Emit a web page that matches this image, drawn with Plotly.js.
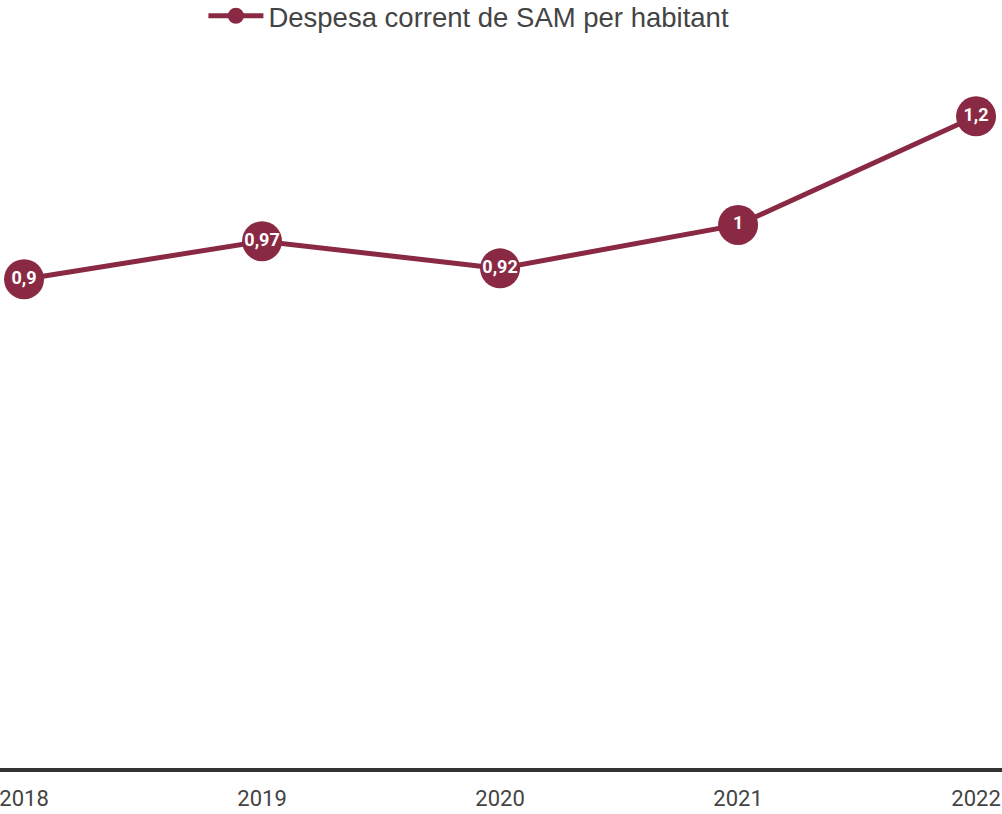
<!DOCTYPE html>
<html>
<head>
<meta charset="utf-8">
<script src="https://cdn.plot.ly/plotly-3.0.1.min.js"></script>
<style>html,body{margin:0;padding:0;background:#fff;}#chart{width:1002px;height:814px;}</style>
</head>
<body>
<div id="chart"></div>
<script>
const years = [2018, 2019, 2020, 2021, 2022];
const values = [0.9, 0.97, 0.92, 1, 1.2];
const seriesName = 'Despesa corrent de SAM per habitant';
const labels = values.map(v => String(v).replace('.', ','));
const color = '#8a2943';

const trace = {
  x: years,
  y: values,
  name: seriesName,
  mode: 'lines+markers+text',
  text: labels,
  textposition: 'middle center',
  textfont: {family: 'Roboto, sans-serif', size: 18, color: '#ffffff', weight: 'bold'},
  line: {color: color, width: 5},
  marker: {color: color, size: 40},
  cliponaxis: false,
  hoverinfo: 'none'
};

const layout = {
  width: 1002,
  height: 814,
  margin: {l: 0, r: 0, t: 62, b: 46, autoexpand: false},
  paper_bgcolor: '#ffffff',
  plot_bgcolor: '#ffffff',
  showlegend: true,
  legend: {
    orientation: 'h',
    x: 0.203, xanchor: 'left',
    y: 1.1, yanchor: 'top',
    font: {family: '"Liberation Sans", Arial, sans-serif', size: 27.5, color: '#444444'},
    itemwidth: 55
  },
  xaxis: {
    range: [2017.899, 2022.109],
    tickvals: years,
    ticktext: years.map(String),
    showgrid: false,
    zeroline: false,
    showline: true,
    linecolor: '#333333',
    linewidth: 4,
    ticks: '',
    ticklabelstandoff: 8,
    ticklabeloverflow: 'allow',
    tickfont: {family: 'Roboto, sans-serif', size: 22, color: '#444444'}
  },
  yaxis: {
    range: [0, 1.3],
    showgrid: false,
    zeroline: false,
    showline: false,
    showticklabels: false,
    ticks: ''
  }
};

Plotly.newPlot('chart', [trace], layout, {displayModeBar: false, staticPlot: true});
</script>
</body>
</html>
